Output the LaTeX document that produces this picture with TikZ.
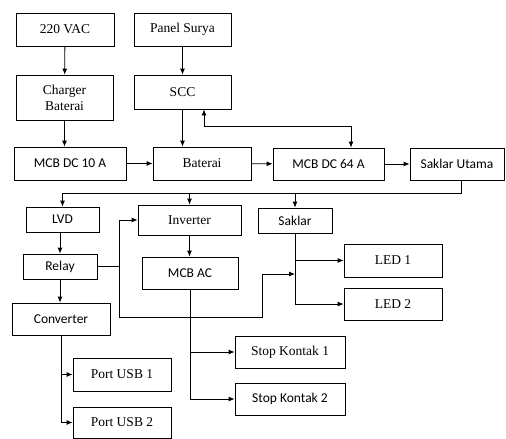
\documentclass[tikz,border=0pt]{standalone}
\usepackage{fontspec}
\newfontfamily\tnrfont{Liberation Serif}
\newfontfamily\calfont{Carlito}
\usetikzlibrary{arrows.meta, calc}

\begin{document}
\begin{tikzpicture}[x=1pt, y=-1pt, line width=0.8pt,
    >={Latex[length=6pt,width=5pt]},
    blok/.style={draw, inner sep=1pt, align=center},
    tnr/.style={blok, font=\tnrfont\fontsize{13.5}{16}\selectfont},
    cal/.style={blok, font=\calfont\fontsize{13.5}{16}\selectfont}]
  \useasboundingbox (0,0) rectangle (506,439);
  % Sources and charging
  \node[tnr, minimum width=98, minimum height=33] (vac) at (65,29.5) {220 VAC};
  \node[tnr, minimum width=97, minimum height=33] (panel) at (182.5,29.5) {Panel Surya};
  \node[tnr, minimum width=97, minimum height=45] (charger) at (64.5,97.5) {Charger\\Baterai};
  \node[tnr, minimum width=97, minimum height=34] (scc) at (182.5,92) {SCC};
  % Battery row
  \node[cal, minimum width=112, minimum height=33] (mcbdc10) at (70,163.5) {MCB DC 10 A};
  \node[tnr, minimum width=98, minimum height=33] (baterai) at (202,163.5) {Baterai};
  \node[cal, minimum width=111, minimum height=32] (mcbdc64) at (328.5,164) {MCB DC 64 A};
  \node[cal, minimum width=94, minimum height=32] (saklarutama) at (457,164) {Saklar Utama};
  % Loads
  \node[cal, minimum width=73, minimum height=25] (lvd) at (62.5,219.5) {LVD};
  \node[tnr, minimum width=103, minimum height=30] (inverter) at (189.5,220) {Inverter};
  \node[cal, minimum width=74, minimum height=25] (saklar) at (295,220.5) {Saklar};
  \node[cal, minimum width=74, minimum height=25] (relay) at (60,266.5) {Relay};
  \node[cal, minimum width=96, minimum height=32] (mcbac) at (190,273) {MCB AC};
  \node[tnr, minimum width=98, minimum height=33] (led1) at (393,260.5) {LED 1};
  \node[tnr, minimum width=98, minimum height=32] (led2) at (393,304) {LED 2};
  \node[cal, minimum width=98, minimum height=32] (converter) at (61,319) {Converter};
  \node[tnr, minimum width=98, minimum height=33] (usb1) at (122,374.5) {Port USB 1};
  \node[tnr, minimum width=98, minimum height=31] (usb2) at (122,422.5) {Port USB 2};
  \node[tnr, minimum width=110, minimum height=32] (kontak1) at (290,352) {Stop Kontak 1};
  \node[cal, minimum width=110, minimum height=32] (kontak2) at (290,399) {Stop Kontak 2};
  \coordinate (sw) at (saklar.south |- 0,274);

  % Connections
  \draw[->] (vac) -- (charger);
  \draw[->] (panel) -- (scc);
  \draw[->] (charger.south) -- (charger.south |- mcbdc10.north);
  \draw[->] (scc.south) -- (scc.south |- baterai.north);
  \draw[->] (mcbdc10) -- (baterai);
  \draw[->] (baterai) -- (mcbdc64);
  \draw[->] (mcbdc64) -- (saklarutama);
  \draw[<->] ([xshift=21.5]scc.south) -- ++(0,17) -| ([xshift=22.5]mcbdc64.north);
  \draw ([xshift=4]saklarutama.south) -- ++(0,13) coordinate (bus) -- (bus -| lvd.north);
  \foreach \n in {lvd, inverter, saklar}
    \draw[->] (bus -| \n.north) -- (\n.north);
  \draw[->] (relay.north |- lvd.south) -- (relay.north);
  \draw[->] (relay.south) -- (relay.south |- converter.north);
  \draw[->] (relay.east) -- ++(22,0) coordinate (rj) |- (inverter.west);
  \draw[->] (rj) -- ++(0,51) -| ([xshift=-33]sw) -- (sw);
  \draw[->] (inverter) -- (inverter |- mcbac.north);
  \draw[->] (saklar.south) |- (led2.west);
  \draw[->] (saklar.south |- led1.west) -- (led1.west);
  \draw[->] (mcbac.south) |- (kontak2.west);
  \draw[->] (mcbac.south |- kontak1.west) -- (kontak1.west);
  \draw[->] (converter.south) |- (usb2.west);
  \draw[->] (converter.south |- usb1.west) -- (usb1.west);
\end{tikzpicture}
\end{document}
